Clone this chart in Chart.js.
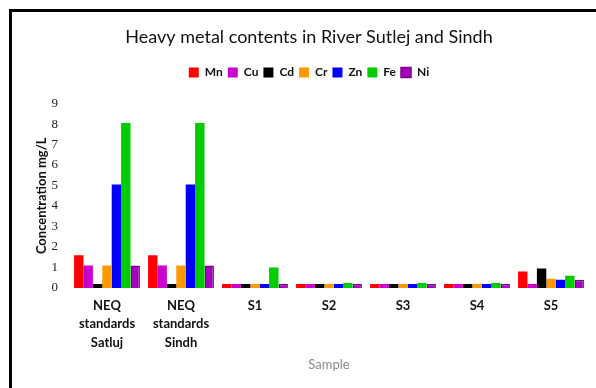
<!DOCTYPE html>
<html>
<head>
<meta charset="utf-8">
<script src="https://cdn.jsdelivr.net/npm/chart.js@4.4.1/dist/chart.umd.min.js"></script>
<style>
  body { margin: 0; background: #fff; }
  #wrap { position: relative; width: 596px; height: 388px; overflow: hidden; }
  #frame { position: absolute; left: 9px; top: 9px; width: 600px; height: 400px;
           border-left: 3px solid #000; border-top: 3px solid #000; }
  canvas { position: absolute; left: 0; top: 0; }
</style>
</head>
<body>
<div id="wrap">
  <div id="frame"></div>
  <canvas id="grafica" width="596" height="388"></canvas>
</div>
<script>
// categorias del eje x (etiquetas en varias lineas)
var samples = [
  ['NEQ', 'standards', 'Satluj'],
  ['NEQ', 'standards', 'Sindh'],
  'S1', 'S2', 'S3', 'S4', 'S5'
];

// valores (mg/L)
var mn = [1.6, 1.6, 0.2, 0.2, 0.2, 0.2, 0.8];
var cu = [1.1, 1.1, 0.2, 0.2, 0.2, 0.2, 0.2];
var cd = [0.2, 0.2, 0.2, 0.2, 0.2, 0.2, 0.95];
var cr = [1.1, 1.1, 0.2, 0.2, 0.2, 0.2, 0.45];
var zn = [5.05, 5.05, 0.2, 0.2, 0.2, 0.2, 0.4];
var fe = [8.05, 8.05, 1.0, 0.25, 0.25, 0.25, 0.6];
var ni = [1.1, 1.1, 0.2, 0.2, 0.2, 0.2, 0.4];

var yTicks = [0, 1, 2, 3, 4, 5, 6, 7, 8, 9];

var ctx = document.getElementById('grafica').getContext('2d');

function serie(label, data, color, border) {
    return {
        label: label,
        data: data,
        backgroundColor: color,
        borderColor: border || color,
        borderWidth: border ? 1.5 : 0
    };
}

// espacio extra bajo la leyenda
var legendSpace = {
    id: 'legendSpace',
    beforeInit: function (chart) {
        var fitOrig = chart.legend.fit;
        chart.legend.fit = function () {
            fitOrig.bind(chart.legend)();
            this.height += 15;
        };
    }
};

var myChart = new Chart(ctx, {
    type: 'bar',
    data: {
        labels: samples,
        datasets: [
            serie('Mn', mn, '#ff0000'),
            serie('Cu', cu, '#cc00cc'),
            serie('Cd', cd, '#000000'),
            serie('Cr', cr, '#ff9900'),
            serie('Zn', zn, '#0000ff'),
            serie('Fe', fe, '#00cc00'),
            serie('Ni', ni, '#a400c0', '#7d0080')
        ]
    },
    options: {
        responsive: false,
        animation: false,
        layout: { padding: { left: 30, right: 8, top: 0, bottom: 17 } },
        datasets: { bar: { categoryPercentage: 0.89, barPercentage: 1.0 } },
        plugins: {
            title: {
                display: true,
                text: 'Heavy metal contents in River Sutlej and Sindh',
                color: '#111',
                font: { family: 'Lato', size: 18, weight: 'normal' },
                padding: { top: 26, bottom: 14 }
            },
            legend: {
                display: true,
                labels: {
                    boxWidth: 10,
                    boxHeight: 10,
                    padding: 5,
                    color: '#111',
                    font: { family: 'Lato', size: 12, weight: 'bold' }
                }
            },
            tooltip: { enabled: false }
        },
        scales: {
            x: {
                grid: { display: false, drawTicks: false },
                border: { display: false },
                afterFit: function (scale) {
                    scale.height = 83;
                },
                ticks: {
                    color: '#111',
                    padding: 9,
                    maxRotation: 0,
                    autoSkip: false,
                    font: { family: 'Lato', size: 13, weight: 'bold', lineHeight: 1.4 }
                },
                title: {
                    display: true,
                    text: 'Sample',
                    color: '#8a8a8a',
                    font: { family: 'Lato', size: 13, lineHeight: 1.0 },
                    padding: { top: 4, bottom: 0 }
                }
            },
            y: {
                min: 0,
                max: 9,
                grid: { display: false, drawTicks: false },
                border: { display: false },
                afterBuildTicks: function (scale) {
                    scale.ticks = yTicks.map(function (v) { return { value: v }; });
                },
                afterFit: function (scale) {
                    scale.width = 40;
                },
                ticks: {
                    color: '#222',
                    padding: 12,
                    font: { family: 'Liberation Serif', size: 13 }
                },
                title: {
                    display: true,
                    text: 'Concentration mg/L',
                    color: '#111',
                    font: { family: 'Lato', size: 13, weight: 'bold' },
                    padding: { top: 4, bottom: 4 }
                }
            }
        }
    },
    plugins: [legendSpace]
});
</script>
</body>
</html>
